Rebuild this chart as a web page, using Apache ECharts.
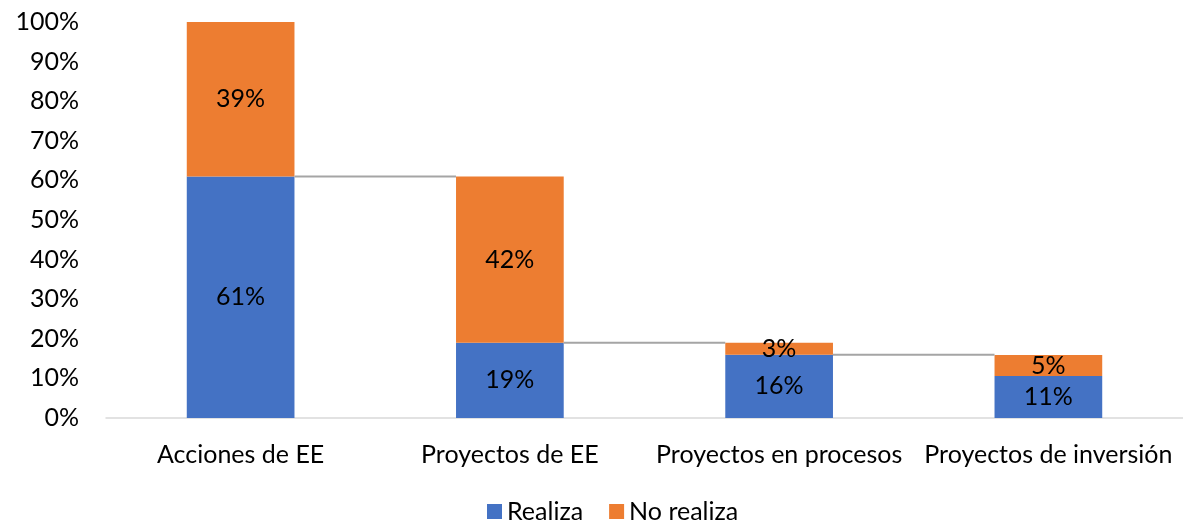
<!DOCTYPE html>
<html lang="es">
<head>
<meta charset="UTF-8">
<title>Realiza / No realiza</title>
<style>
  html, body { margin: 0; padding: 0; background: #fff; }
  #main { width: 1183px; height: 526px; }
</style>
</head>
<body>
<div id="main"></div>
<script src="https://cdn.jsdelivr.net/npm/echarts@6/dist/echarts.min.js"></script>
<script>
var categories = ['Acciones de EE', 'Proyectos de EE', 'Proyectos en procesos', 'Proyectos de inversión'];
var realiza = [61, 19, 16, 10.6];
var noRealiza = [39, 42, 3, 5.3];
var yTicks = [0, 100, 10]; // min, max, interval

var FONT = 'Lato';
var FS = 25;
var chart = echarts.init(document.getElementById('main'));

// conectores: de la parte azul de una barra al total de la siguiente
var links = [];
for (var i = 0; i < realiza.length - 1; i++) {
  links.push([i, realiza[i]]);
}

var labelStyle = {
  show: true,
  position: 'inside',
  color: '#000',
  fontFamily: FONT,
  fontSize: FS,
  formatter: function (p) { return Math.round(p.value) + '%'; }
};

chart.setOption({
  backgroundColor: '#fff',
  animation: false,
  textStyle: { fontFamily: FONT },
  grid: { left: 106, right: 0, top: 22, bottom: 108 },
  legend: {
    left: 482,
    top: 494,
    itemWidth: 15,
    itemHeight: 15,
    itemGap: 26,
    icon: 'rect',
    textStyle: { fontFamily: FONT, fontSize: FS, color: '#000' },
    data: ['Realiza', 'No realiza']
  },
  xAxis: {
    type: 'category',
    data: categories,
    axisLine: { lineStyle: { color: '#d9d9d9', width: 1.5 } },
    axisTick: { show: false },
    axisLabel: { color: '#000', fontFamily: FONT, fontSize: FS, margin: 24, interval: 0 }
  },
  yAxis: {
    type: 'value',
    min: yTicks[0],
    max: yTicks[1],
    interval: yTicks[2],
    splitLine: { show: false },
    axisLine: { show: false },
    axisTick: { show: false },
    axisLabel: { color: '#000', fontFamily: FONT, fontSize: FS, margin: 27, formatter: '{value}%' }
  },
  series: [
    {
      name: 'Realiza',
      type: 'bar',
      stack: 'total',
      barWidth: '40%',
      itemStyle: { color: '#4472C4' },
      label: labelStyle,
      data: realiza
    },
    {
      name: 'No realiza',
      type: 'bar',
      stack: 'total',
      barWidth: '40%',
      itemStyle: { color: '#ED7D31' },
      label: labelStyle,
      data: noRealiza
    },
    {
      type: 'custom',
      silent: true,
      z: 5,
      renderItem: function (params, api) {
        var p = api.coord([api.value(0), api.value(1)]);
        var band = api.size([1, 0])[0];
        return {
          type: 'line',
          shape: { x1: p[0] + band * 0.2, y1: p[1], x2: p[0] + band * 0.8, y2: p[1] },
          style: { stroke: '#a5a5a5', lineWidth: 2 }
        };
      },
      encode: { x: 0, y: 1 },
      data: links
    }
  ]
});
</script>
</body>
</html>
